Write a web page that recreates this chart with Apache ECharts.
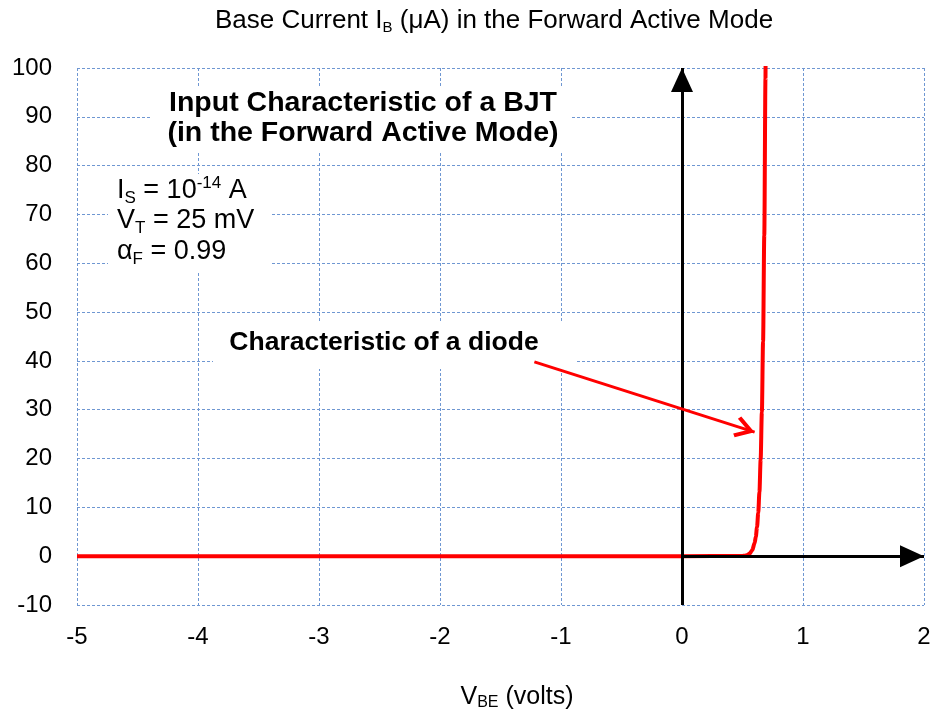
<!DOCTYPE html>
<html><head><meta charset="utf-8">
<script src="https://cdn.jsdelivr.net/npm/echarts@6/dist/echarts.min.js"></script>
<style>html,body{margin:0;padding:0;background:#fff}#c{width:937px;height:718px}</style>
</head><body><div id="c"></div>
<script>
// Axis ticks
const xTicks = [-5, -4, -3, -2, -1, 0, 1, 2];
const yTicks = [-10, 0, 10, 20, 30, 40, 50, 60, 70, 80, 90, 100];
// Curve: V_BE (volts) and base current I_B (µA)
const vbe = [-5, -4, -3, -2, -1, 0, 0.5, 0.52, 0.54, 0.56, 0.58, 0.6, 0.61, 0.62, 0.63, 0.64, 0.65, 0.66, 0.67, 0.68, 0.69, 0.7];
const ib  = [0, 0, 0, 0, 0, 0, 0.05, 0.11, 0.24, 0.54, 1.2, 2.68, 3.99, 5.95, 8.87, 13.2, 19.8, 29.5, 44.0, 65.7, 98.0, 146];
// Axis arrows (data coords)
const yAxisArrow = [[0, -10], [0, 100]];
const xAxisArrow = [[0, 0], [2, 0]];
// Annotation arrow from label to curve
const annoArrow = [[-1.22, 39.8], [0.6, 25.4]];

const FONT = '"Liberation Sans", Arial, sans-serif';
const chart = echarts.init(document.getElementById('c'));
const grid = {left: 77, right: 13, top: 68, bottom: 113};
const gridLine = {show: true, lineStyle: {color: '#6F97D2', type: [3, 2], width: 1}};

const sub = (fs, col, bold) => ({fontSize: fs, fontFamily: FONT, color: col, fontWeight: bold ? 'bold' : 'normal', verticalAlign: 'bottom'});
const sup = (fs, col) => ({fontSize: fs, fontFamily: FONT, color: col, verticalAlign: 'top'});
const norm = (fs, col, lh, bold) => ({fontSize: fs, fontFamily: FONT, color: col, lineHeight: lh, fontWeight: bold ? 'bold' : 'normal'});

function textEl(x, y, text, rich, align) {
  return {type: 'text', x: x, y: y, z: 10,
    style: {text: text, rich: rich, align: align || 'center', verticalAlign: 'middle', fill: '#000', font: '20px ' + FONT}};
}

const option = {
  animation: false,
  backgroundColor: '#fff',
  grid: grid,
  xAxis: {type: 'value', min: xTicks[0], max: xTicks[xTicks.length - 1], interval: 1,
    axisLine: {show: false}, axisTick: {show: false},
    axisLabel: {fontSize: 24, fontFamily: FONT, color: '#000', margin: 20},
    splitLine: gridLine},
  yAxis: {type: 'value', min: yTicks[0], max: yTicks[yTicks.length - 1], interval: 10,
    axisLine: {show: false}, axisTick: {show: false},
    axisLabel: {fontSize: 24, fontFamily: FONT, color: '#000', margin: 25},
    splitLine: gridLine},
  graphic: [
    {type: 'rect', shape: {x: 150, y: 86, width: 422, height: 66}, style: {fill: '#fff'}, z: 5},
    {type: 'rect', shape: {x: 108, y: 174, width: 162, height: 98}, style: {fill: '#fff'}, z: 5},
    {type: 'rect', shape: {x: 213, y: 323, width: 362, height: 46}, style: {fill: '#fff'}, z: 5},
    textEl(494, 21, '{n|Base Current I}{s|B}{n| (μA) in the Forward Active Mode}',
      {n: norm(26, '#000', 29), s: sub(15, '#000')}),
    textEl(517, 697, '{n|V}{s|BE}{n| (volts)}',
      {n: norm(25, '#000', 28), s: sub(16, '#000')}),
    textEl(363, 103, '{n|Input Characteristic of a BJT}', {n: norm(28.5, '#1F3A68', 30, true)}),
    textEl(363, 133, '{n|(in the Forward Active Mode)}', {n: norm(28.5, '#1F3A68', 30, true)}),
    textEl(117, 191, '{n|I}{s|S}{n| = 10}{p|-14}{n| A}',
      {n: norm(27, '#000', 32), s: sub(17, '#000'), p: sup(17, '#000')}, 'left'),
    textEl(117, 221, '{n|V}{s|T}{n| = 25 mV}',
      {n: norm(27, '#000', 32), s: sub(17, '#000')}, 'left'),
    textEl(117, 252, '{n|α}{s|F}{n| = 0.99}',
      {n: norm(27, '#000', 32), s: sub(17, '#000')}, 'left'),
    textEl(384, 343, '{n|Characteristic of a diode}', {n: norm(26.5, '#FF0000', 30, true)})
  ],
  series: [
    {type: 'line', data: [], silent: true,
      markLine: {silent: true, animation: false, symbol: ['none', 'triangle'], symbolSize: [22, 24], symbolOffset: [0, [0, 12]],
        label: {show: false}, lineStyle: {color: '#000', width: 3, type: 'solid'},
        data: [
          [{coord: yAxisArrow[0]}, {coord: yAxisArrow[1]}],
          [{coord: xAxisArrow[0]}, {coord: xAxisArrow[1]}]
        ]}},
    {type: 'line', data: vbe.map((v, i) => [v, ib[i]]), showSymbol: false, symbol: 'none',
      smooth: 0.3, smoothMonotone: 'x', clip: true,
      lineStyle: {color: '#FF0000', width: 4}, z: 3},
    {type: 'line', data: [], silent: true, z: 20,
      markLine: {silent: true, animation: false,
        symbol: ['none', 'path://M10,0 L20,14 L17,16 L10,6 L3,16 L0,14 Z'], symbolSize: [22, 20], symbolOffset: [0, [0, 10]],
        label: {show: false}, lineStyle: {color: '#FF0000', width: 3, type: 'solid'},
        itemStyle: {color: '#FF0000'},
        data: [[{coord: annoArrow[0]}, {coord: annoArrow[1]}]]}}
  ]
};
chart.setOption(option);
</script>
</body></html>
